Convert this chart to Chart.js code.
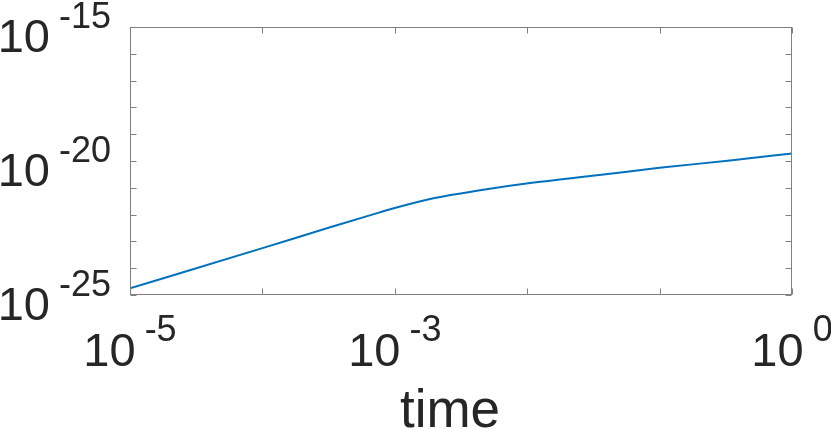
<!DOCTYPE html>
<html>
<head>
<meta charset="utf-8">
<script src="https://cdn.jsdelivr.net/npm/chart.js@4"></script>
<style>
  html, body { margin: 0; padding: 0; background: #fff; }
  #wrap { width: 831px; height: 430px; position: relative; }
</style>
</head>
<body>
<div id="wrap"><canvas id="plot"></canvas></div>
<script>
/* ===============================
   DATA
================================ */
const times  = [1e-5, 1e-4, 3.2e-4, 7.7e-4, 1e-3, 2e-3, 4.4e-3, 1.05e-2, 3.5e-2, 0.1, 0.34, 1];
const values = [1.78e-25, 5.6e-24, 3.3e-23, 1.21e-22, 1.77e-22, 4.17e-22, 8.1e-22, 1.5e-21, 3.0e-21, 5.6e-21, 1.04e-20, 1.91e-20];

// tick marks every decade, labels only on some
const xTicks = [1e-5, 1e-4, 1e-3, 1e-2, 1e-1, 1];
const yTicks = [1e-25, 1e-24, 1e-23, 1e-22, 1e-21, 1e-20, 1e-19, 1e-18, 1e-17, 1e-16, 1e-15];
const xLabelTicks = [1e-5, 1e-3, 1];
const xLabelExps  = ["-5", "-3", "0"];
const yLabelTicks = [1e-25, 1e-20, 1e-15];
const yLabelExps  = ["-25", "-20", "-15"];
const xTitle = "time";

/* ===============================
   STYLE
================================ */
const FONT = "'Liberation Sans', Arial, Helvetica, sans-serif";
const TEXT = "#262626";
const AXIS = "#808080";
const LINE = "#0072BD";

/* ===============================
   MATLAB-LIKE AXES (box, inward ticks, 10^n labels)
================================ */
const matlabAxes = {
    id: "matlabAxes",
    afterDraw(chart) {
        const c = chart.ctx;
        const a = chart.chartArea;
        const xs = chart.scales.x, ys = chart.scales.y;
        const L = Math.round(a.left) + 0.5, R = Math.round(a.right) - 0.5;
        const T = Math.round(a.top) + 0.5, B = Math.round(a.bottom) - 0.5;
        const tl = 6;

        c.save();
        c.strokeStyle = AXIS;
        c.lineWidth = 1;
        c.strokeRect(L, T, R - L, B - T);

        c.beginPath();
        xTicks.forEach(v => {
            const px = Math.round(xs.getPixelForValue(v)) + 0.5;
            c.moveTo(px, B); c.lineTo(px, B - tl);
            c.moveTo(px, T); c.lineTo(px, T + tl);
        });
        yTicks.forEach(v => {
            const py = Math.round(ys.getPixelForValue(v)) + 0.5;
            c.moveTo(L, py); c.lineTo(L + tl, py);
            c.moveTo(R, py); c.lineTo(R - tl, py);
        });
        c.stroke();

        c.fillStyle = TEXT;
        c.textBaseline = "alphabetic";
        const baseFont = "47px " + FONT;
        const expFont = "36px " + FONT;
        const gap = 9;

        // x labels, centred on the tick
        xLabelTicks.forEach((v, i) => {
            const px = xs.getPixelForValue(v);
            c.font = baseFont;
            const w1 = c.measureText("10").width;
            c.font = expFont;
            const w2 = c.measureText(xLabelExps[i]).width;
            const start = px - (w1 + gap + w2) / 2;
            c.textAlign = "left";
            c.font = baseFont;
            c.fillText("10", start, a.bottom + 71);
            c.font = expFont;
            c.fillText(xLabelExps[i], start + w1 + gap, a.bottom + 46);
        });

        // y labels, right aligned
        const rightEdge = a.left - 19;
        yLabelTicks.forEach((v, i) => {
            const py = ys.getPixelForValue(v);
            c.font = expFont;
            const w2 = c.measureText(yLabelExps[i]).width;
            c.textAlign = "right";
            c.fillText(yLabelExps[i], rightEdge, py + 1);
            c.font = baseFont;
            c.fillText("10", rightEdge - w2 - gap, py + 25);
        });

        // axis title
        c.font = "53px " + FONT;
        c.textAlign = "center";
        c.fillText(xTitle, 450, 427);
        c.restore();
    }
};

/* ===============================
   CHART
================================ */
const ctx = document.getElementById("plot");
new Chart(ctx, {
    type: "line",
    data: {
        datasets: [{
            data: times.map((t, i) => ({ x: t, y: values[i] })),
            borderColor: LINE,
            borderWidth: 2,
            pointRadius: 0,
            cubicInterpolationMode: "monotone",
            fill: false
        }]
    },
    options: {
        responsive: true,
        maintainAspectRatio: false,
        animation: false,
        layout: { padding: { left: 122, right: 39, top: 27, bottom: 127 } },
        plugins: { legend: { display: false }, tooltip: { enabled: false } },
        scales: {
            x: {
                type: "logarithmic", min: 1e-5, max: 1,
                ticks: { display: false }, grid: { display: false }, border: { display: false }
            },
            y: {
                type: "logarithmic", min: 1e-25, max: 1e-15,
                ticks: { display: false }, grid: { display: false }, border: { display: false }
            }
        }
    },
    plugins: [matlabAxes]
});
</script>
</body>
</html>
